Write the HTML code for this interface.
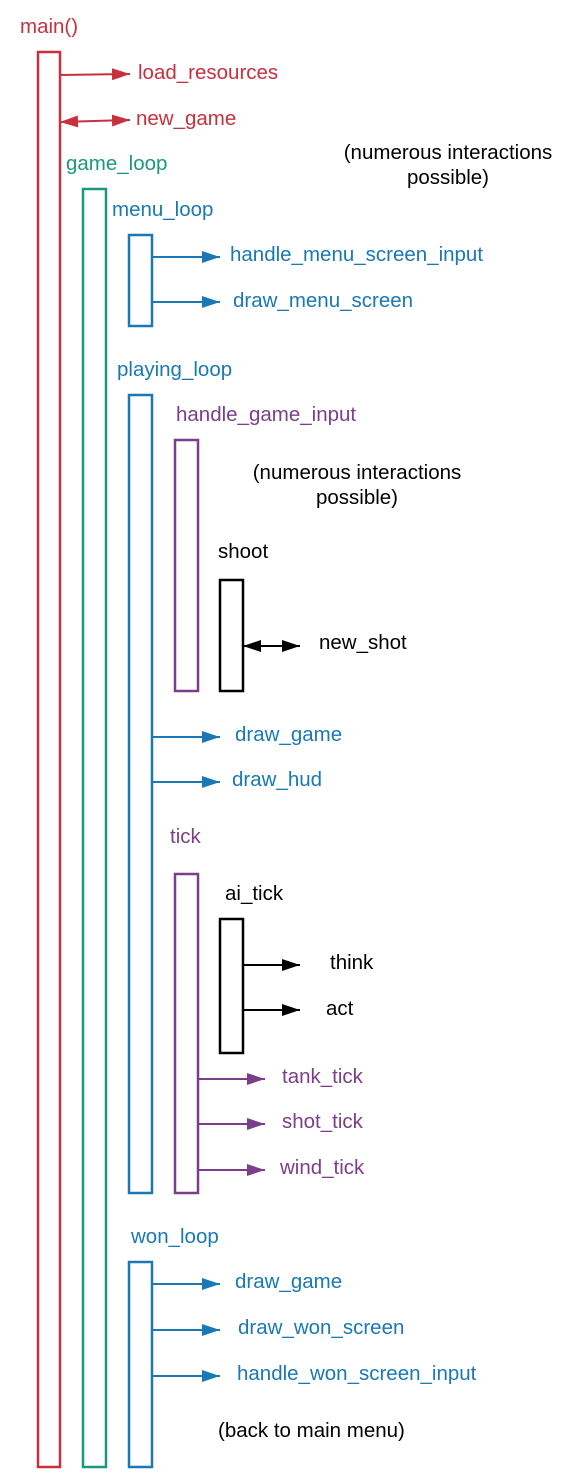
<!DOCTYPE html>
<html><head><meta charset="utf-8"><style>
html,body{margin:0;padding:0;background:#fff;width:576px;height:1482px;overflow:hidden}
text{font-family:"Liberation Sans",sans-serif;font-size:20.5px}
</style></head><body>
<svg width="576" height="1482" xmlns="http://www.w3.org/2000/svg">
<defs>
<marker id="b" markerWidth="18" markerHeight="12" refX="18" refY="6" orient="auto-start-reverse" markerUnits="userSpaceOnUse" viewBox="0 0 18 12"><path d="M0,0 L18,6 L0,12 Z" fill="#1a78b4"/></marker>
<marker id="p" markerWidth="18" markerHeight="12" refX="18" refY="6" orient="auto-start-reverse" markerUnits="userSpaceOnUse" viewBox="0 0 18 12"><path d="M0,0 L18,6 L0,12 Z" fill="#7b3f8a"/></marker>
<marker id="k" markerWidth="18" markerHeight="12" refX="18" refY="6" orient="auto-start-reverse" markerUnits="userSpaceOnUse" viewBox="0 0 18 12"><path d="M0,0 L18,6 L0,12 Z" fill="#000"/></marker>
<marker id="rr" markerWidth="18" markerHeight="12" refX="18" refY="6" orient="auto-start-reverse" markerUnits="userSpaceOnUse" viewBox="0 0 18 12"><path d="M0,0 L18,6 L0,12 Z" fill="#c8303e"/></marker>
</defs>
<g fill="none" stroke-width="2.5">
<rect x="38" y="52" width="22" height="1415" stroke="#c8303e"/>
<rect x="83" y="189" width="23" height="1278" stroke="#1a9a7a"/>
<rect x="129" y="235" width="23" height="91" stroke="#1a78b4"/>
<rect x="129" y="395" width="23" height="798" stroke="#1a78b4"/>
<rect x="175" y="440" width="23" height="251" stroke="#7b3f8a"/>
<rect x="220" y="580" width="23" height="111" stroke="#000"/>
<rect x="175" y="874" width="23" height="319" stroke="#7b3f8a"/>
<rect x="220" y="919" width="23" height="134" stroke="#000"/>
<rect x="129" y="1262" width="23" height="205" stroke="#1a78b4"/>
</g>
<g stroke-width="2">
<line x1="60" y1="75" x2="130" y2="74" stroke="#c8303e" marker-end="url(#rr)"/>
<line x1="60" y1="122" x2="130" y2="120" stroke="#c8303e" marker-start="url(#rr)" marker-end="url(#rr)"/>
<g stroke="#1a78b4">
<line x1="152" y1="257" x2="220" y2="257" marker-end="url(#b)"/>
<line x1="152" y1="302" x2="220" y2="302" marker-end="url(#b)"/>
<line x1="152" y1="737" x2="220" y2="737" marker-end="url(#b)"/>
<line x1="152" y1="782" x2="220" y2="782" marker-end="url(#b)"/>
<line x1="152" y1="1284" x2="220" y2="1284" marker-end="url(#b)"/>
<line x1="152" y1="1330" x2="220" y2="1330" marker-end="url(#b)"/>
<line x1="152" y1="1376" x2="220" y2="1376" marker-end="url(#b)"/>
</g>
<g stroke="#7b3f8a">
<line x1="198" y1="1079" x2="265" y2="1079" marker-end="url(#p)"/>
<line x1="198" y1="1124" x2="265" y2="1124" marker-end="url(#p)"/>
<line x1="198" y1="1170" x2="265" y2="1170" marker-end="url(#p)"/>
</g>
<g stroke="#000">
<line x1="243" y1="646" x2="300" y2="646" marker-start="url(#k)" marker-end="url(#k)"/>
<line x1="243" y1="965" x2="300" y2="965" marker-end="url(#k)"/>
<line x1="243" y1="1010" x2="300" y2="1010" marker-end="url(#k)"/>
</g>
</g>
<g fill="#c8303e"><text x="20" y="33">main()</text><text x="138" y="79">load_resources</text><text x="136" y="125">new_game</text></g>
<text x="66" y="170" fill="#1a9a7a">game_loop</text>
<g fill="#1a78b4">
<text x="112" y="216">menu_loop</text>
<text x="230" y="261">handle_menu_screen_input</text>
<text x="233" y="307">draw_menu_screen</text>
<text x="117" y="376">playing_loop</text>
<text x="235" y="741">draw_game</text>
<text x="232" y="786">draw_hud</text>
<text x="131" y="1243">won_loop</text>
<text x="235" y="1288">draw_game</text>
<text x="238" y="1334">draw_won_screen</text>
<text x="237" y="1380">handle_won_screen_input</text>
</g>
<g fill="#7b3f8a">
<text x="176" y="421">handle_game_input</text>
<text x="170" y="843">tick</text>
<text x="282" y="1083">tank_tick</text>
<text x="282" y="1128">shot_tick</text>
<text x="280" y="1174">wind_tick</text>
</g>
<g fill="#000">
<text x="448" y="159" text-anchor="middle">(numerous interactions</text>
<text x="448" y="184" text-anchor="middle">possible)</text>
<text x="357" y="479" text-anchor="middle">(numerous interactions</text>
<text x="357" y="504" text-anchor="middle">possible)</text>
<text x="218" y="558">shoot</text>
<text x="319" y="649">new_shot</text>
<text x="225" y="900">ai_tick</text>
<text x="330" y="969">think</text>
<text x="326" y="1015">act</text>
<text x="218" y="1437">(back to main menu)</text>
</g>
</svg>
</body></html>
